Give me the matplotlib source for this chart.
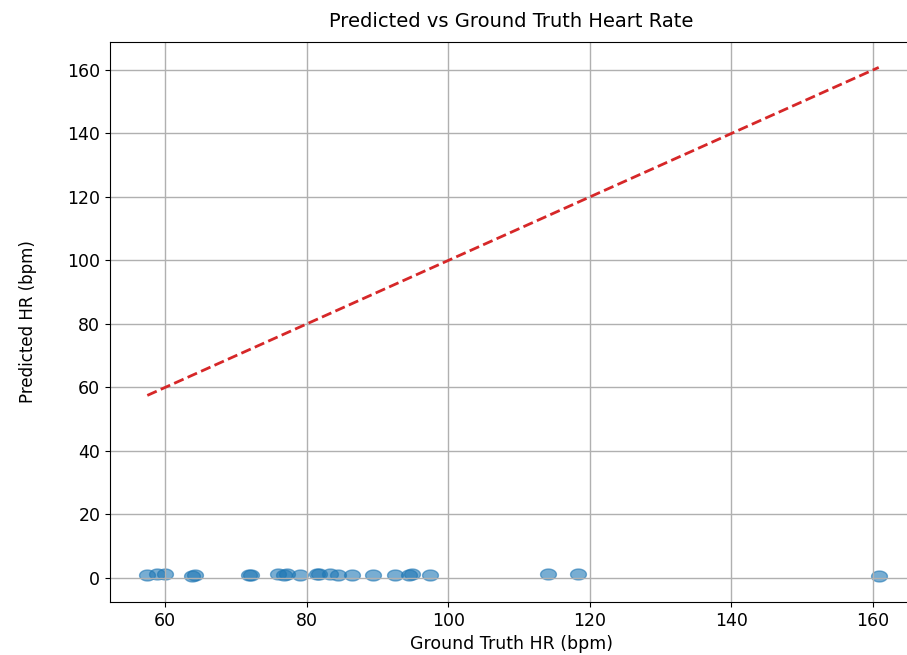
import matplotlib
matplotlib.use("Agg")
import matplotlib.pyplot as plt
from matplotlib.path import Path
import numpy as np

gt_hr = [57.5, 58.8, 60.0, 63.8, 64.3, 71.9, 72.1, 76.0, 76.8, 77.2, 79.1,
         81.4, 81.7, 83.3, 84.4, 86.4, 89.4, 92.5, 94.5, 94.9, 97.4,
         114.1, 118.3, 160.8]
pred_hr = [0.8, 1.2, 1.3, 0.7, 0.8, 1.1, 0.9, 1.3, 1.0, 1.4, 0.9,
           1.4, 1.2, 1.3, 0.9, 0.9, 0.8, 0.8, 1.0, 1.3, 0.8,
           1.4, 1.3, 0.7]

# wide elliptical marker
t = np.linspace(0, 2 * np.pi, 60)
ell = Path(np.column_stack([1.45 * np.cos(t), np.sin(t)]), closed=True)

fig = plt.figure(figsize=(9.07, 6.55), dpi=100)
ax = fig.add_axes([110/907, 53/655, (912-110)/907, (602-42)/655])

ax.scatter(gt_hr, pred_hr, s=130, alpha=0.6, color='#1f77b4', marker=ell)
lo, hi = min(gt_hr), max(gt_hr)
ax.plot([lo, hi], [lo, hi], '--', color='#d62728', lw=2.0)

ax.set_xlim(52.23, 165.5)
ax.set_ylim(-7.56, 168.8)
ax.set_xticks([60, 80, 100, 120, 140, 160])
ax.set_yticks([0, 20, 40, 60, 80, 100, 120, 140, 160])
ax.grid(True, color='#b0b0b0', lw=1.0)
ax.tick_params(labelsize=12.5)
ax.set_xlabel('Ground Truth HR (bpm)', fontsize=12.5)
ax.set_ylabel('Predicted HR (bpm)', fontsize=12, labelpad=22)
ax.set_title('Predicted vs Ground Truth Heart Rate', fontsize=14, pad=11)

fig.savefig('out.png', dpi=100)
